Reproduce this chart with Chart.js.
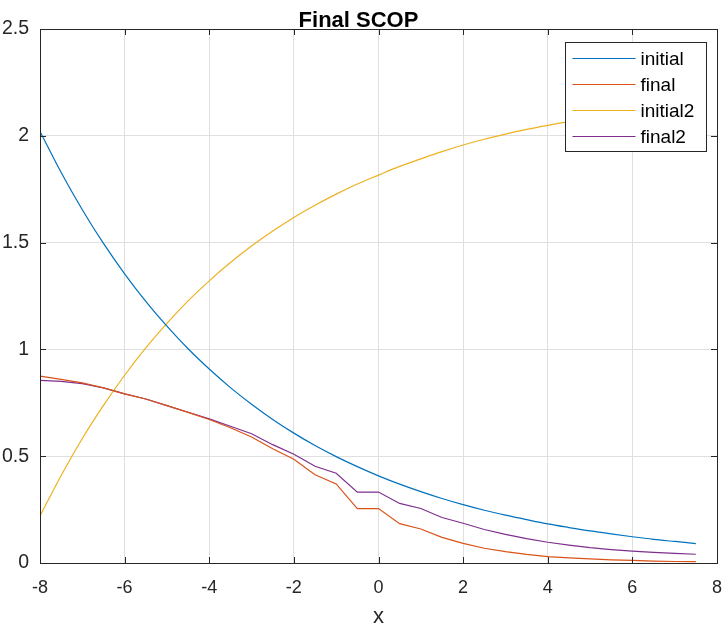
<!DOCTYPE html>
<html>
<head>
<meta charset="utf-8">
<script src="https://cdn.jsdelivr.net/npm/chart.js@4.4.1/dist/chart.umd.min.js"></script>
<style>
  html, body { margin: 0; padding: 0; background: #fff; }
  #wrap { width: 724px; height: 625px; }
</style>
</head>
<body>
<div id="wrap"><canvas id="scopChart"></canvas></div>
<script>
// Final SCOP
const xValues = [-8, -7.5, -7, -6.5, -6, -5.5, -5, -4.5, -4, -3.5, -3, -2.5, -2, -1.5, -1, -0.5,
                 0, 0.5, 1, 1.5, 2, 2.5, 3, 3.5, 4, 4.5, 5, 5.5, 6, 6.5, 7, 7.5];

const initialValues = [2.020, 1.828, 1.654, 1.496, 1.354, 1.225, 1.109, 1.003, 0.908, 0.821, 0.743, 0.672, 0.608, 0.550, 0.498, 0.451,
                       0.408, 0.369, 0.334, 0.302, 0.273, 0.247, 0.224, 0.203, 0.183, 0.166, 0.150, 0.136, 0.123, 0.111, 0.101, 0.091];

const finalValues = [0.875, 0.86, 0.843, 0.82, 0.792, 0.768, 0.737, 0.705, 0.672, 0.633, 0.59, 0.535, 0.486, 0.413, 0.37, 0.255,
                     0.255, 0.184, 0.159, 0.12, 0.092, 0.069, 0.053, 0.04, 0.03, 0.024, 0.019, 0.015, 0.012, 0.009, 0.007, 0.006];

const initial2Values = [0.220, 0.410, 0.583, 0.738, 0.879, 1.007, 1.122, 1.227, 1.321, 1.407, 1.484, 1.554, 1.618, 1.675, 1.727, 1.774,
                        1.816, 1.857, 1.892, 1.926, 1.957, 1.984, 2.008, 2.030, 2.049, 2.066, 2.081, 2.096, 2.108, 2.120, 2.130, 2.140];

const final2Values = [0.855, 0.85, 0.84, 0.82, 0.792, 0.768, 0.737, 0.706, 0.675, 0.64, 0.605, 0.554, 0.509, 0.453, 0.42, 0.332,
                      0.332, 0.279, 0.255, 0.213, 0.186, 0.157, 0.134, 0.114, 0.097, 0.084, 0.072, 0.063, 0.056, 0.05, 0.045, 0.041];

const seriesLabels = ['initial', 'final', 'initial2', 'final2'];
const seriesColors = ['#0072BD', '#D95319', '#EDB120', '#7E2F8E'];
const smoothSeries = [true, false, true, false];
const xTicks = [-8, -6, -4, -2, 0, 2, 4, 6, 8];
const yTicks = [0, 0.5, 1, 1.5, 2, 2.5];

const FONT = "'Liberation Sans', Arial, Helvetica, sans-serif";
const AXIS_COLOR = '#262626';

function toPoints(ys) {
    return xValues.map((x, i) => ({ x: x, y: ys[i] }));
}

// box around the axes plus inward ticks on all four sides (MATLAB style)
const boxPlugin = {
    id: 'boxPlugin',
    afterDatasetsDraw(chart) {
        const { ctx, chartArea: a, scales } = chart;
        const len = 6;
        ctx.save();
        ctx.strokeStyle = AXIS_COLOR;
        ctx.lineWidth = 1;
        ctx.beginPath();
        xTicks.forEach(v => {
            const px = Math.round(scales.x.getPixelForValue(v)) + 0.5;
            ctx.moveTo(px, a.bottom); ctx.lineTo(px, a.bottom - len);
            ctx.moveTo(px, a.top); ctx.lineTo(px, a.top + len);
        });
        yTicks.forEach(v => {
            const py = Math.round(scales.y.getPixelForValue(v)) + 0.5;
            ctx.moveTo(a.left, py); ctx.lineTo(a.left + len, py);
            ctx.moveTo(a.right, py); ctx.lineTo(a.right - len, py);
        });
        ctx.stroke();
        ctx.strokeRect(Math.round(a.left) + 0.5, Math.round(a.top) + 0.5,
                       Math.round(a.right - a.left), Math.round(a.bottom - a.top));
        ctx.restore();
    }
};

// legend box inside the plot, top right, drawn over the lines
const insideLegend = {
    id: 'insideLegend',
    afterDraw(chart) {
        const { ctx, chartArea: a } = chart;
        const boxW = 141, boxH = 109;
        const bx = Math.round(a.right) - 11 - boxW + 0.5;
        const by = Math.round(a.top) + 13 + 0.5;
        ctx.save();
        ctx.fillStyle = '#fff';
        ctx.fillRect(bx, by, boxW, boxH);
        ctx.strokeStyle = AXIS_COLOR;
        ctx.lineWidth = 1;
        ctx.strokeRect(bx, by, boxW, boxH);
        ctx.font = '19px ' + FONT;
        ctx.textBaseline = 'middle';
        ctx.fillStyle = '#000';
        chart.data.datasets.forEach((ds, i) => {
            const cy = by + 16 + i * 26;
            ctx.strokeStyle = ds.borderColor;
            ctx.lineWidth = 1.2;
            ctx.beginPath();
            ctx.moveTo(bx + 7, cy);
            ctx.lineTo(bx + 70, cy);
            ctx.stroke();
            ctx.fillText(ds.label, bx + 75, cy + 1);
        });
        ctx.restore();
    }
};

const ctx = document.getElementById('scopChart').getContext('2d');
new Chart(ctx, {
    type: 'line',
    data: {
        datasets: [initialValues, finalValues, initial2Values, final2Values].map((vals, i) => ({
            label: seriesLabels[i],
            data: toPoints(vals),
            borderColor: seriesColors[i],
            backgroundColor: seriesColors[i],
            borderWidth: 1.2,
            pointRadius: 0,
            tension: 0,
            cubicInterpolationMode: smoothSeries[i] ? 'monotone' : 'default',
            fill: false
        }))
    },
    options: {
        responsive: true,
        maintainAspectRatio: false,
        animation: false,
        layout: { padding: { left: 0, right: 7, top: 0, bottom: 0 } },
        plugins: {
            legend: { display: false },
            tooltip: { enabled: false },
            title: {
                display: true,
                text: 'Final SCOP',
                color: '#000',
                font: { family: FONT, size: 22, weight: 'bold', lineHeight: 1 },
                padding: { top: 10, bottom: -3 }
            }
        },
        scales: {
            x: {
                type: 'linear',
                min: -8,
                max: 8,
                afterFit(scale) {
                    scale.height = 62;
                    scale.paddingLeft = 0;
                    scale.paddingRight = 0;
                },
                afterBuildTicks(scale) { scale.ticks = xTicks.map(v => ({ value: v })); },
                grid: { color: '#dfdfdf', drawTicks: false },
                border: { display: false },
                ticks: { color: AXIS_COLOR, padding: 14, maxRotation: 0, font: { family: FONT, size: 18 } },
                title: {
                    display: true,
                    text: 'x',
                    color: AXIS_COLOR,
                    font: { family: FONT, size: 22, lineHeight: 0.75 },
                    padding: { top: 0, bottom: 0 }
                }
            },
            y: {
                type: 'linear',
                min: 0,
                max: 2.5,
                afterFit(scale) {
                    scale.width = 40;
                    scale.paddingTop = 0;
                    scale.paddingBottom = 0;
                },
                afterBuildTicks(scale) { scale.ticks = yTicks.map(v => ({ value: v })); },
                grid: { color: '#dfdfdf', drawTicks: false },
                border: { display: false },
                ticks: {
                    color: AXIS_COLOR,
                    padding: 11,
                    font: { family: FONT, size: 19.5 },
                    callback: v => String(v)
                }
            }
        }
    },
    plugins: [boxPlugin, insideLegend]
});
</script>
</body>
</html>
